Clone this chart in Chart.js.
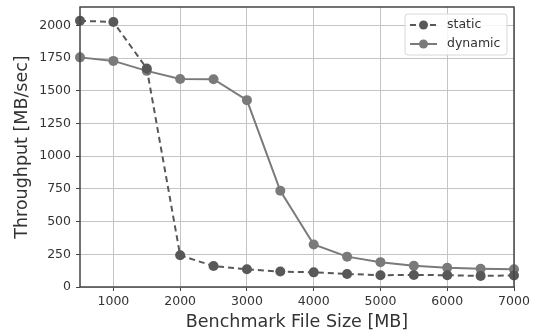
<!DOCTYPE html>
<html>
<head>
<meta charset="utf-8">
<script src="https://cdn.jsdelivr.net/npm/chart.js@4.4.0/dist/chart.umd.min.js"></script>
<style>
  html, body { margin: 0; padding: 0; background: #fff; }
  #wrap { width: 539px; height: 335px; }
</style>
</head>
<body>
<div id="wrap"><canvas id="chart" width="539" height="335"></canvas></div>
<script>
// ---------- DATA ----------
const fileSizes = [500, 1000, 1500, 2000, 2500, 3000, 3500, 4000, 4500, 5000, 5500, 6000, 6500, 7000];
const staticThroughput = [2035, 2025, 1670, 242, 160, 135, 118, 112, 100, 90, 92, 90, 85, 88];
const dynamicThroughput = [1755, 1728, 1652, 1590, 1588, 1428, 735, 325, 232, 190, 163, 147, 140, 135];
const xTicks = [1000, 2000, 3000, 4000, 5000, 6000, 7000];
const yTicks = [0, 250, 500, 750, 1000, 1250, 1500, 1750, 2000];

const FONT = "'DejaVu Sans', sans-serif";

const toPoints = ys => fileSizes.map((x, i) => ({ x, y: ys[i] }));

// frame around plot area + legend inside
const framePlugin = {
  id: "frame",
  afterDatasetsDraw(chart) {
    const { ctx, chartArea: a } = chart;
    ctx.save();
    ctx.strokeStyle = "#444";
    ctx.lineWidth = 1.5;
    ctx.strokeRect(a.left, a.top, a.right - a.left, a.bottom - a.top);

    // legend
    const bx = 405, by = 14, bw = 102, bh = 41;
    ctx.fillStyle = "rgba(255,255,255,0.85)";
    ctx.strokeStyle = "#d8d8d8";
    ctx.lineWidth = 1;
    ctx.beginPath();
    ctx.roundRect(bx, by, bw, bh, 3);
    ctx.fill();
    ctx.stroke();
    chart.data.datasets.forEach((ds, i) => {
      const y = by + 11 + i * 19;
      ctx.strokeStyle = ds.borderColor;
      ctx.lineWidth = 2;
      ctx.setLineDash(ds.borderDash || []);
      ctx.beginPath();
      ctx.moveTo(bx + 5, y);
      ctx.lineTo(bx + 32, y);
      ctx.stroke();
      ctx.setLineDash([]);
      ctx.fillStyle = ds.pointBackgroundColor;
      ctx.beginPath();
      ctx.arc(bx + 18.5, y, 4.5, 0, Math.PI * 2);
      ctx.fill();
      ctx.fillStyle = "#333";
      ctx.font = "12.5px " + FONT;
      ctx.textBaseline = "middle";
      ctx.fillText(ds.label, bx + 42, y);
    });
    ctx.restore();
  }
};

new Chart(document.getElementById("chart"), {
  type: "line",
  data: {
    datasets: [
      {
        label: "static",
        data: toPoints(staticThroughput),
        borderColor: "#585858",
        backgroundColor: "#585858",
        pointBackgroundColor: "#585858",
        pointBorderWidth: 0,
        borderWidth: 2,
        borderDash: [6, 4],
        pointRadius: 5,
        tension: 0
      },
      {
        label: "dynamic",
        data: toPoints(dynamicThroughput),
        borderColor: "#7a7a7a",
        backgroundColor: "#7a7a7a",
        pointBackgroundColor: "#7a7a7a",
        pointBorderWidth: 0,
        borderWidth: 2,
        pointRadius: 5,
        tension: 0
      }
    ]
  },
  options: {
    responsive: false,
    animation: false,
    clip: false,
    layout: { padding: { left: 0, right: 25, top: 7, bottom: 0 } },
    plugins: { legend: { display: false }, tooltip: { enabled: false } },
    scales: {
      x: {
        type: "linear",
        min: 500,
        max: 7000,
        afterBuildTicks: s => { s.ticks = xTicks.map(v => ({ value: v })); },
        afterFit: s => { s.height = 48; s.paddingLeft = 0; s.paddingRight = 0; },
        grid: { color: "#c4c4c4", lineWidth: 1, tickLength: 4, tickColor: "#444" },
        border: { display: false },
        ticks: { color: "#333", font: { family: FONT, size: 12.5 }, padding: 3, maxRotation: 0, callback: v => String(v) },
        title: { display: true, text: "Benchmark File Size [MB]", color: "#333", font: { family: FONT, size: 17.5 }, padding: { top: 0, bottom: 2.5 } }
      },
      y: {
        min: 0,
        max: 2140,
        afterBuildTicks: s => { s.ticks = yTicks.map(v => ({ value: v })); },
        afterFit: s => { s.width = 80; s.paddingTop = 0; s.paddingBottom = 0; },
        grid: { color: "#c4c4c4", lineWidth: 1, tickLength: 4, tickColor: "#444" },
        border: { display: false },
        ticks: { color: "#333", font: { family: FONT, size: 12.5 }, padding: 5, callback: v => String(v) },
        title: { display: true, text: "Throughput [MB/sec]", color: "#333", font: { family: FONT, size: 17.5 }, padding: { top: 11.5, bottom: 0 } }
      }
    }
  },
  plugins: [framePlugin]
});
</script>
</body>
</html>
